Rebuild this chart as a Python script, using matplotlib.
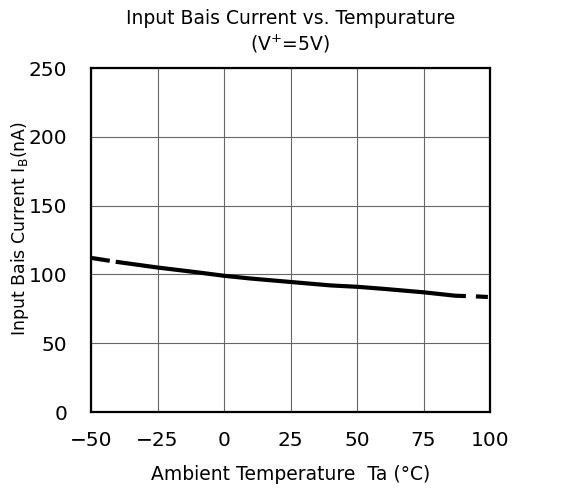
import matplotlib
matplotlib.use("Agg")
import matplotlib.pyplot as plt

temps = [-50, -40, -25, -10, 0, 10, 25, 40, 50, 60, 75, 87, 95, 100]
ib = [112, 109, 105, 101.5, 99, 97, 94.5, 92, 91, 89.5, 87, 84.5, 84, 83.5]
xticks = [-50, -25, 0, 25, 50, 75, 100]
yticks = [0, 50, 100, 150, 200, 250]

plt.rcParams['lines.scale_dashes'] = False
fig = plt.figure(figsize=(5.77, 4.95), dpi=100)
ax = fig.add_axes([91/577, 1-412/495, (490-91)/577, (412-68)/495])

ax.set_xlim(-50, 100)
ax.set_ylim(0, 250)
ax.set_xticks(xticks)
ax.set_yticks(yticks)
ax.set_xticklabels(["\u221250", "\u221225", "0", "25", "50", "75", "100"])
ax.grid(True, color='#666666', linewidth=0.8)
ax.tick_params(length=0, labelsize=14.5, pad=14)
ax.tick_params(axis='y', pad=17)
for s in ax.spines.values():
    s.set_linewidth(1.6)
    s.set_color('black')

px = 0.72
ax.plot(temps, ib, color='black', linewidth=3.0, solid_capstyle='butt',
        dashes=(19*px, 6*px, 352*px, 10*px, 12*px, 30*px), dash_capstyle='butt')

cx = 0.5*(91+490)/577
fig.text(cx, 1-18/495, "Input Bais Current vs. Tempurature", ha='center', va='center', fontsize=13.5)
fig.text(cx, 1-44/495, "(V$^{+}$=5V)", ha='center', va='center', fontsize=13.5)
fig.text(cx, 1-474/495, "Ambient Temperature  Ta (\u00b0C)", ha='center', va='center', fontsize=13.5)
fig.text(20/577, 1-228/495, "Input Bais Current I$_{\\mathregular{B}}$(nA)", ha='center', va='center',
         rotation=90, fontsize=12.5)

fig.savefig("out.png", dpi=100, facecolor='white')
